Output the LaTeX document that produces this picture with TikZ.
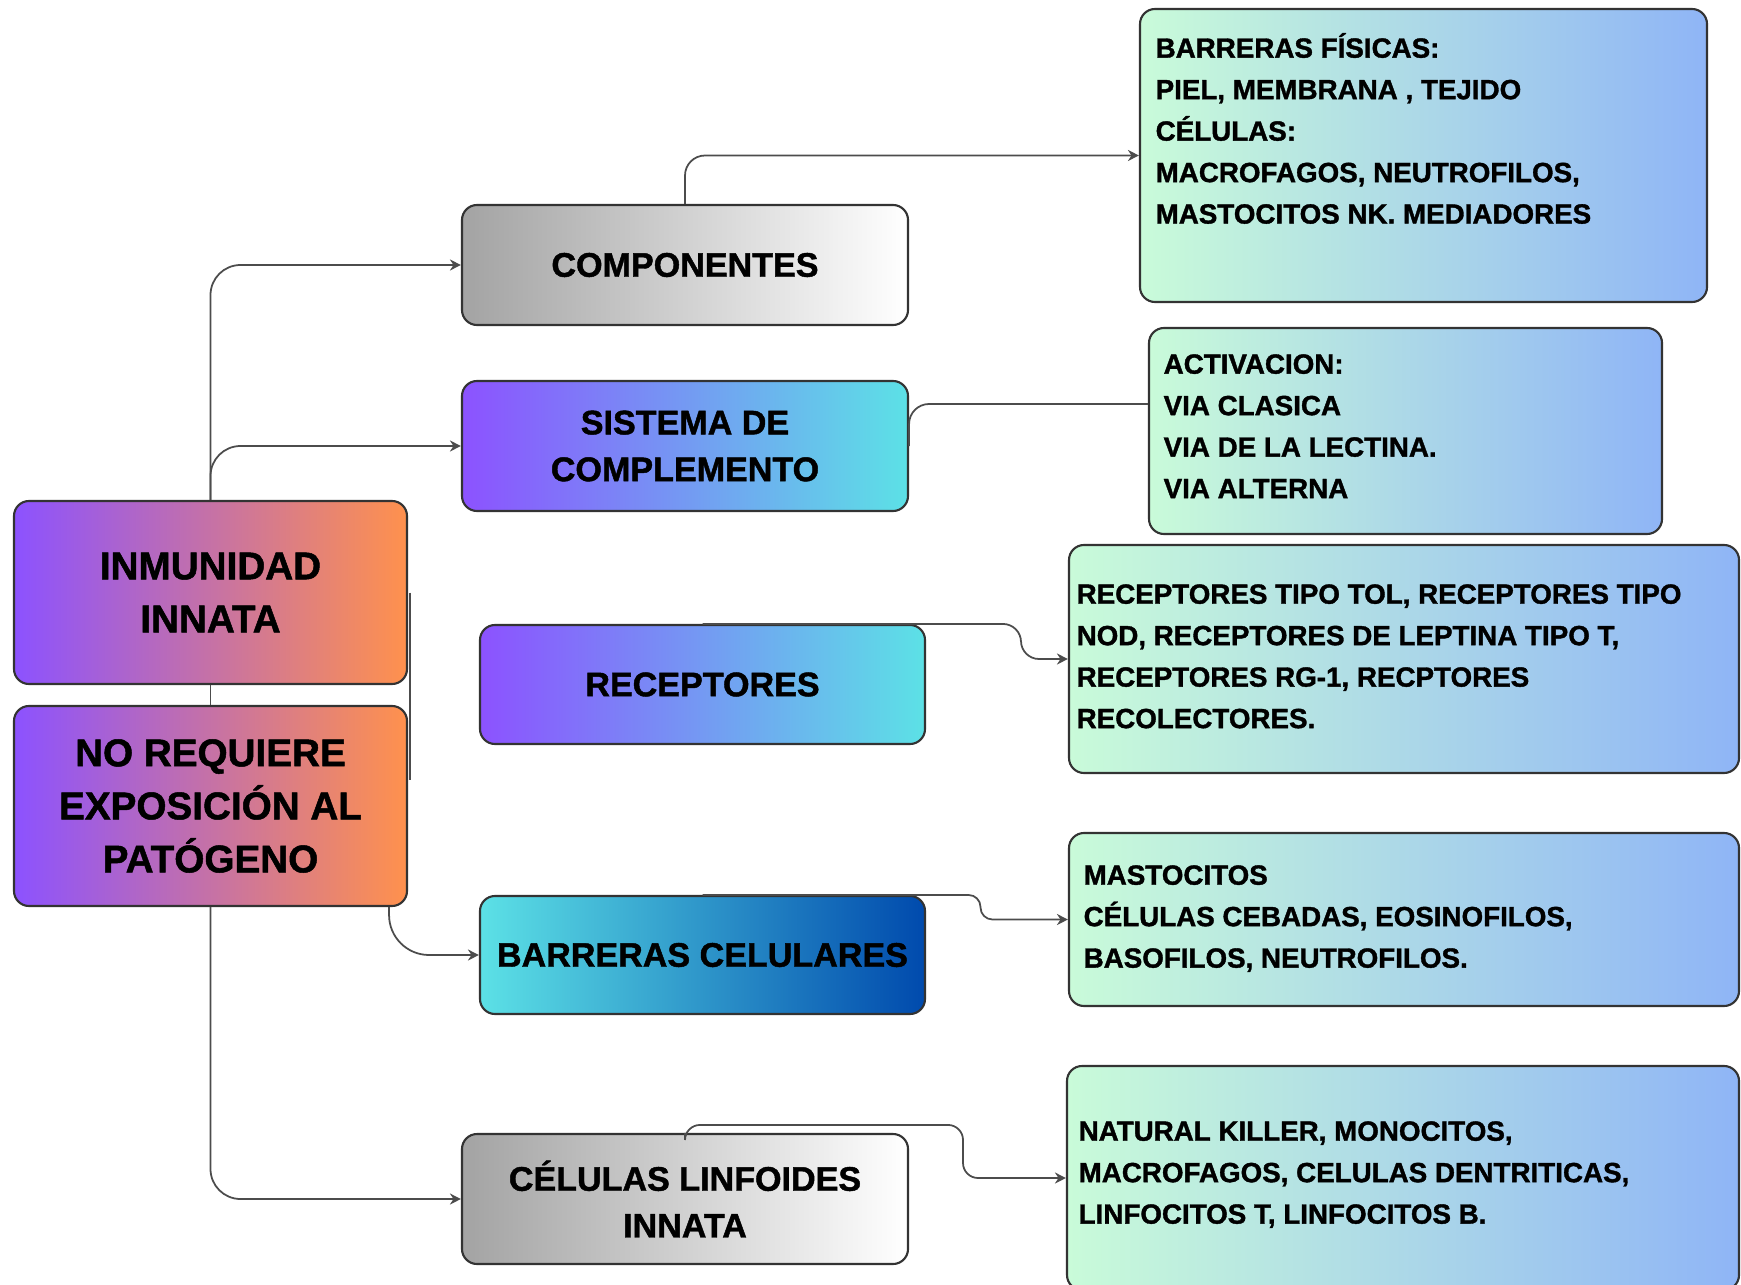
\documentclass[tikz,border=0pt]{standalone}
\usepackage{fontspec}
\setmainfont{Liberation Sans}[BoldFeatures={FakeBold=1.3}]
\usetikzlibrary{arrows.meta}
\definecolor{violeta}{HTML}{8C52FF}
\definecolor{naranja}{HTML}{FF914D}
\definecolor{cian}{HTML}{5CE1E6}
\definecolor{marino}{HTML}{004AAD}
\definecolor{plata}{HTML}{A3A3A3}
\definecolor{menta}{HTML}{C9FBD9}
\definecolor{celeste}{HTML}{8FB5F6}
\begin{document}
\begin{tikzpicture}[
    caja/.style={draw=black!80, line width=0.6pt, rounded corners=1.5mm, inner sep=0pt, align=center},
    raiz/.style={caja, left color=violeta, right color=naranja, minimum width=3.93cm, font=\fontsize{11}{15.1}\selectfont\bfseries},
    gris/.style={caja, left color=plata, right color=white, minimum width=4.46cm, minimum height=1.2cm, font=\fontsize{9.7}{13.3}\selectfont\bfseries},
    azul/.style={caja, left color=violeta, right color=cian, minimum width=4.46cm, font=\fontsize{9.7}{13.3}\selectfont\bfseries},
    oscuro/.style={caja, left color=cian, right color=marino, minimum width=4.45cm, font=\fontsize{9.7}{13.3}\selectfont\bfseries},
    detalle/.style={caja, left color=menta, right color=celeste},
    lista/.style={anchor=north west, inner sep=0pt, align=left, font=\fontsize{7.9}{11.8}\selectfont\bfseries},
    linea/.style={draw=black!70, line width=0.5pt, rounded corners=3mm},
    flecha/.style={linea, -{Stealth[length=1.1mm,width=1.1mm]}}
]
\useasboundingbox (0,0) rectangle (17.41,-12.85);

\node[raiz, minimum height=1.83cm] (inm) at (2.105,-5.925) {INMUNIDAD\\INNATA};
\node[raiz, minimum height=2.00cm] (noreq) at (2.105,-8.06) {NO REQUIERE\\EXPOSICIÓN AL\\PATÓGENO};

\node[gris] (comp) at (6.85,-2.65) {COMPONENTES};
\node[azul, minimum height=1.30cm] (sist) at (6.85,-4.46) {SISTEMA DE\\COMPLEMENTO};
\node[azul, minimum width=4.45cm, minimum height=1.19cm] (rec) at (7.025,-6.845) {RECEPTORES};
\node[oscuro, minimum height=1.18cm] (barr) at (7.025,-9.55) {BARRERAS CELULARES};
\node[gris, minimum height=1.30cm] (linf) at (6.85,-11.99) {CÉLULAS LINFOIDES\\INNATA};

\node[detalle, minimum width=5.67cm, minimum height=2.93cm] (fisicas) at (14.235,-1.555) {};
\node[detalle, minimum width=5.13cm, minimum height=2.06cm] (vias) at (14.055,-4.31) {};
\node[detalle, minimum width=6.70cm, minimum height=2.28cm] (tipos) at (14.04,-6.59) {};
\node[detalle, minimum width=6.70cm, minimum height=1.73cm] (cebadas) at (14.04,-9.195) {};
\node[detalle, minimum width=6.72cm, minimum height=2.24cm] (killer) at (14.03,-11.78) {};

\node[lista] (fisicas-txt) at ([shift={(0.16,-0.20)}]fisicas.north west) {\strut BARRERAS FÍSICAS:\\PIEL, MEMBRANA , TEJIDO\\CÉLULAS:\\MACROFAGOS, NEUTROFILOS,\\MASTOCITOS NK. MEDIADORES};
\node[lista] (vias-txt) at ([shift={(0.15,-0.17)}]vias.north west) {\strut ACTIVACION:\\VIA CLASICA\\VIA DE LA LECTINA.\\VIA ALTERNA};
\node[lista] (tipos-txt) at ([shift={(0.08,-0.30)}]tipos.north west) {\strut RECEPTORES TIPO TOL, RECEPTORES TIPO\\NOD, RECEPTORES DE LEPTINA TIPO T,\\RECEPTORES RG-1, RECPTORES\\RECOLECTORES.};
\node[lista] (cebadas-txt) at ([shift={(0.15,-0.23)}]cebadas.north west) {\strut MASTOCITOS\\CÉLULAS CEBADAS, EOSINOFILOS,\\BASOFILOS, NEUTROFILOS.};
\node[lista] (killer-txt) at ([shift={(0.12,-0.46)}]killer.north west) {\strut NATURAL KILLER, MONOCITOS,\\MACROFAGOS, CELULAS DENTRITICAS,\\LINFOCITOS T, LINFOCITOS B.};

\draw[flecha] (inm.north) |- (comp.west);
\draw[flecha] (inm.north) |- (sist.west);
\draw[linea] (inm.south) -- (noreq.north);
\draw[flecha] (noreq.south) |- (linf.west);
\draw[flecha, rounded corners=4mm] ([xshift=-1.9mm]noreq.south east) |- (barr.west);
\draw[linea] ([xshift=0.2mm]inm.east) -- ++(0,-1.875);
\draw[flecha, rounded corners=2mm] (comp.north) |- (fisicas.west);
\draw[linea, rounded corners=2mm] (sist.east) |- ([yshift=2.7mm]vias.west);
\draw[flecha, rounded corners=1.8mm] (rec.north) -- ++(3.185,0) |- (tipos.west);
\draw[flecha, rounded corners=1.2mm] (barr.north) -- ++(2.78,0) |- (cebadas.west);
\draw[flecha, rounded corners=1.5mm] (linf.north) -- ++(0,0.08) -- ++(2.78,0) |- (killer.west);
\end{tikzpicture}
\end{document}
